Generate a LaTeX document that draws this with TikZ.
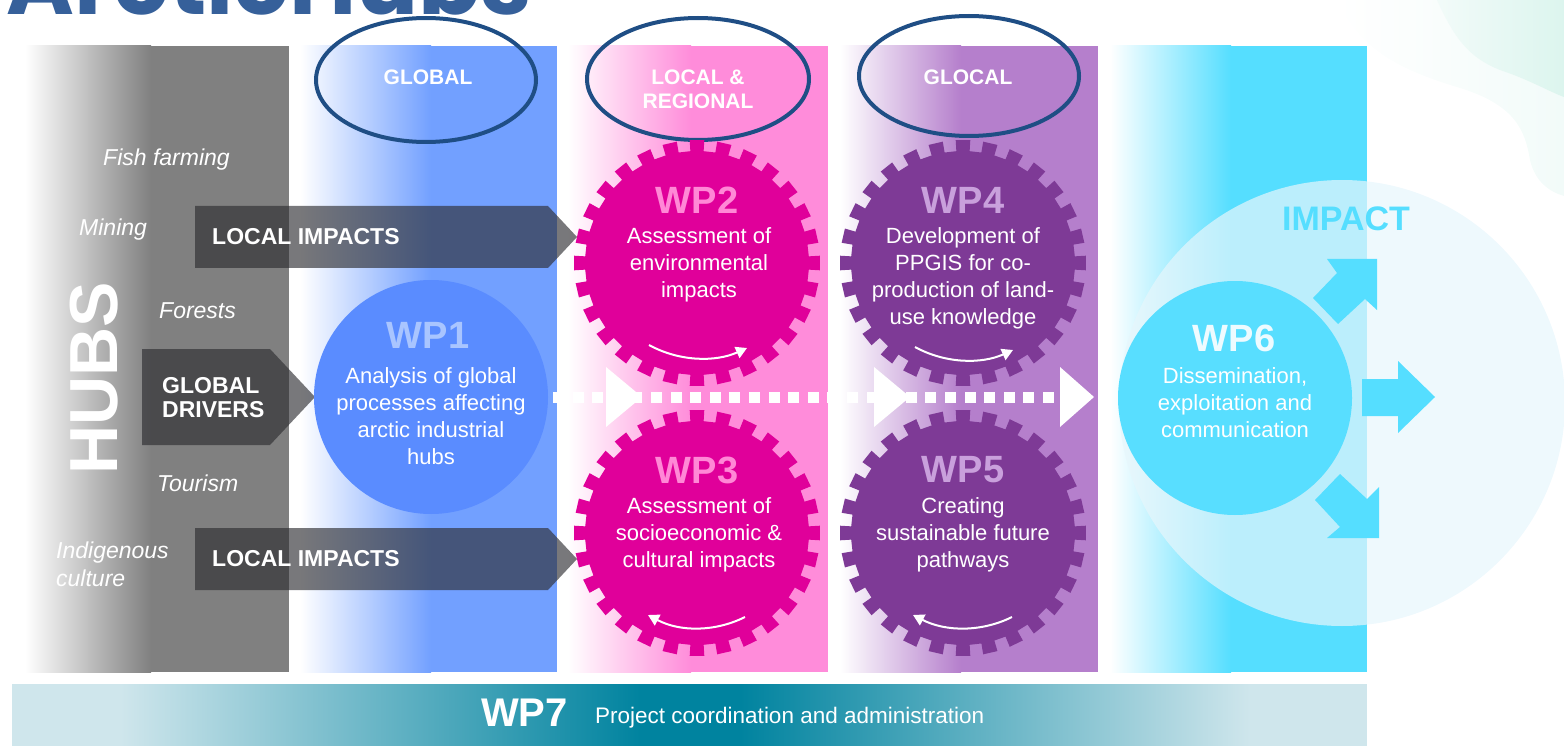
\documentclass[tikz,border=0pt]{standalone}
\usepackage{fontspec}
\setmainfont{Liberation Sans}
\newfontfamily\titlefont{Poppins}
\usetikzlibrary{arrows.meta}
\newcommand\fsz[2]{\fontsize{#1}{#2}\selectfont}
\definecolor{graycol}{HTML}{808080}
\definecolor{bluecol}{HTML}{72A0FF}
\definecolor{pinkcol}{HTML}{FF8CDA}
\definecolor{purplecol}{HTML}{B57FCC}
\definecolor{cyancol}{HTML}{55DEFF}
\definecolor{wponeblue}{HTML}{5A8CFF}
\definecolor{wponelabel}{HTML}{A9C5FF}
\definecolor{gearpink}{HTML}{E0009A}
\definecolor{pinklabel}{HTML}{FF88D6}
\definecolor{gearpurple}{HTML}{7E3A96}
\definecolor{purplelabel}{HTML}{C9A0DC}
\definecolor{wpsixcyan}{HTML}{58DEFF}
\definecolor{wpsixlabel}{HTML}{EEFBFF}
\definecolor{ringblue}{HTML}{1F4E85}
\definecolor{titleblue}{HTML}{36609A}
\definecolor{arrowdark}{HTML}{2C2C30}
\definecolor{paleimpact}{HTML}{E7F6FC}
\definecolor{wpsevenlight}{HTML}{CFE6EC}
\definecolor{wpsevendark}{HTML}{00839F}
\definecolor{mintA}{HTML}{DCF5EE}
\definecolor{mintB}{HTML}{F2FBF9}
\newcommand\drawgear[3]{%
  \fill[#3,shift={(#1,#2)}] (-3.4:112) \foreach \i in {0,...,27}{ -- ({\i*12.857-3.4}:112) -- ({\i*12.857-3.4}:123) -- ({\i*12.857+3.4}:123) -- ({\i*12.857+3.4}:112)} -- cycle;}
\begin{document}
\begin{tikzpicture}[x=1pt,y=-1pt,
  wplabel/.style={font=\bfseries\fsz{38}{40}, inner sep=0pt},
  wptext/.style={text=white, align=center, font=\fsz{22}{27}, inner sep=0pt},
  hublabel/.style={text=white, font=\itshape\fsz{23}{28}, inner sep=0pt, anchor=west, align=left},
  darkarrow/.style={fill=arrowdark, fill opacity=0.64},
  arrowtext/.style={text=white, font=\bfseries\fsz{23}{24}, inner sep=0pt, anchor=west, align=left},
  ringlabel/.style={text=white, font=\bfseries\fsz{21}{24}, inner sep=0pt, align=center},
  ring/.style={draw=ringblue, line width=4pt},
  turn/.style={draw=white, line width=2pt, -{Triangle[length=11pt,width=12pt]}},
  impactarrow/.style={fill=cyancol},
]
\useasboundingbox (0,0) rectangle (1564,746);
\clip (0,0) rectangle (1564,746);
% decorative blobs
\shade[left color=white, right color=mintB] (1337,0) .. controls (1360,50) and (1400,70) .. (1460,88) .. controls (1515,105) and (1525,130) .. (1530,160) .. controls (1535,182) and (1550,192) .. (1564,196) -- (1564,0) -- cycle;
\shade[left color=mintB, right color=mintA] (1437,0) .. controls (1455,40) and (1470,58) .. (1500,70) .. controls (1530,80) and (1550,92) .. (1564,97) -- (1564,0) -- cycle;
% title (cut off at the top edge)
\node[anchor=base west, inner sep=0pt, text=titleblue, font=\titlefont\bfseries\fsz{92}{92}] (title) at (6,15) {ArcticHubs};
% columns
\fill[graycol] (25,46) rectangle (289,672);
\shade[left color=white, right color=graycol] (25,46) rectangle (151,672);
\fill[bluecol] (300,46) rectangle (557,672);
\shade[left color=white, right color=bluecol] (300,46) rectangle (431,672);
\fill[pinkcol] (568,46) rectangle (828,672);
\shade[left color=white, right color=pinkcol] (568,46) rectangle (691,672);
\fill[purplecol] (840,46) rectangle (1098,672);
\shade[left color=white, right color=purplecol] (840,46) rectangle (961,672);
\fill[cyancol] (1110,46) rectangle (1367,672);
\shade[left color=white, right color=cyancol] (1110,46) rectangle (1231,672);
% WP7 bar
\fill[wpsevenlight] (12,684) rectangle (121,746);
\shade[left color=wpsevenlight, right color=wpsevendark] (120,684) rectangle (641,746);
\fill[wpsevendark] (640,684) rectangle (741,746);
\shade[left color=wpsevendark, right color=wpsevenlight] (740,684) rectangle (1251,746);
\fill[wpsevenlight] (1250,684) rectangle (1367,746);
\node[anchor=base west, inner sep=0pt, text=white, font=\bfseries\fsz{40}{42}] (wp7) at (481,726) {WP7};
\node[anchor=base west, inner sep=0pt, text=white, font=\fsz{22.5}{26}] (wp7text) at (595,723) {Project coordination and administration};
% scale rings
\draw[ring] (426,80) ellipse [x radius=110, y radius=62];
\draw[ring] (698,79) ellipse [x radius=111, y radius=61];
\draw[ring] (969,76) ellipse [x radius=110, y radius=60];
\node[ringlabel] (global) at (428,77) {GLOBAL};
\node[ringlabel] (local) at (698,89) {LOCAL \&\\REGIONAL};
\node[ringlabel] (glocal) at (968,77) {GLOCAL};
% hubs
\node[rotate=90, inner sep=0pt, text=white, font=\bfseries\fsz{68}{68}] (hubs) at (94,378) {HUBS};
\node[hublabel] (fish) at (103,160) {Fish farming};
\node[hublabel] (mining) at (79,230) {Mining};
\node[hublabel] (forests) at (159,311) {Forests};
\node[hublabel] (tourism) at (157,483) {Tourism};
\node[hublabel] (indig) at (56,564) {Indigenous\\culture};
% dark arrows
\fill[darkarrow] (195,206) -- (548,206) -- (577,237) -- (548,268) -- (195,268) -- cycle;
\node[arrowtext] (locA) at (212,237) {LOCAL IMPACTS};
\fill[darkarrow] (195,528) -- (548,528) -- (577,559) -- (548,590) -- (195,590) -- cycle;
\node[arrowtext] (locB) at (212,559) {LOCAL IMPACTS};
\fill[darkarrow] (142,349) -- (270,349) -- (315,397) -- (270,445) -- (142,445) -- cycle;
\node[arrowtext] (drivers) at (162,398) {GLOBAL\\DRIVERS};
% WP1
\fill[wponeblue] (431,397) circle [radius=117];
\node[wplabel, text=wponelabel] (wp1) at (428,335) {WP1};
\node[wptext] (wp1text) at (431,416) {Analysis of global\\processes affecting\\arctic industrial\\hubs};
% gears
\drawgear{697}{263}{gearpink}
\drawgear{697}{533}{gearpink}
\drawgear{963}{263}{gearpurple}
\drawgear{963}{533}{gearpurple}
\node[wplabel, text=pinklabel] (wp2) at (697,200) {WP2};
\node[wptext] (wp2text) at (699,265) {Assessment of\\environmental\\impacts};
\node[wplabel, text=pinklabel] (wp3) at (697,470) {WP3};
\node[wptext] (wp3text) at (699,535) {Assessment of\\socioeconomic \&\\cultural impacts};
\node[wplabel, text=purplelabel] (wp4) at (963,200) {WP4};
\node[wptext] (wp4text) at (963,278) {Development of\\PPGIS for co-\\production of land-\\use knowledge};
\node[wplabel, text=purplelabel] (wp5) at (963,470) {WP5};
\node[wptext] (wp5text) at (963,535) {Creating\\sustainable future\\pathways};
\draw[turn] (649,345) .. controls (680,362) and (716,362) .. (747,348);
\draw[turn] (745,617) .. controls (715,632) and (680,632) .. (648,615);
\draw[turn] (915,347) .. controls (946,364) and (982,364) .. (1013,350);
\draw[turn] (1012,617) .. controls (982,632) and (946,632) .. (913,615);
% dotted flow arrow
\foreach \k in {0,...,25} \fill[white] ({553+\k*19.6},391.5) rectangle ++(11,11);
\fill[white] (606,367) -- (642,397) -- (606,427) -- cycle;
\fill[white] (874,367) -- (910,397) -- (874,427) -- cycle;
\fill[white] (1060,367) -- (1094,397) -- (1060,427) -- cycle;
% impact
\fill[paleimpact, fill opacity=0.7] (1342,403) circle [radius=223];
\fill[wpsixcyan] (1235,398) circle [radius=117];
\node[wplabel, text=wpsixlabel] (wp6) at (1234,338) {WP6};
\node[wptext] (wp6text) at (1235,403) {Dissemination,\\exploitation and\\communication};
\node[inner sep=0pt, text=cyancol, font=\bfseries\fsz{34}{36}] (impact) at (1346,219) {IMPACT};
\fill[impactarrow] (1327,259) -- (1377,259) -- (1377,310) -- (1365,299) -- (1338,324) -- (1313,298) -- (1337,273) -- cycle;
\fill[impactarrow] (1362,379) -- (1398,379) -- (1398,361) -- (1435,397) -- (1398,433) -- (1398,416) -- (1362,416) -- cycle;
\fill[impactarrow] (1327,538) -- (1379,538) -- (1379,487) -- (1367,499) -- (1340,474) -- (1315,500) -- (1340,527) -- cycle;
\end{tikzpicture}
\end{document}
